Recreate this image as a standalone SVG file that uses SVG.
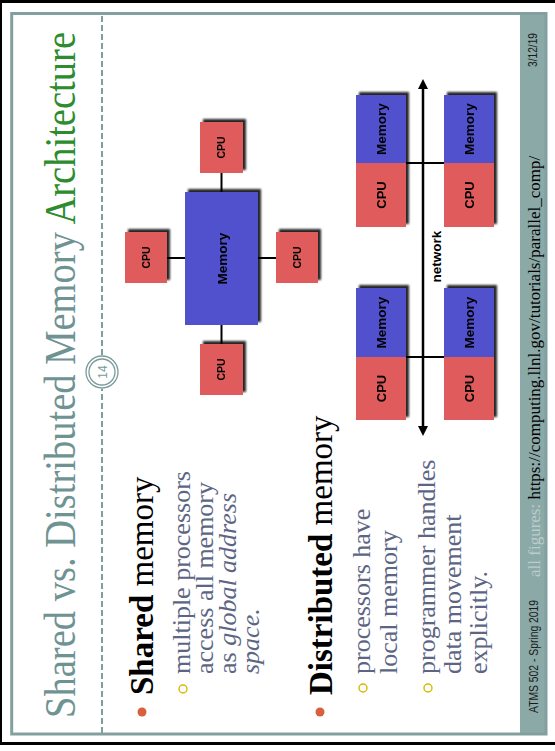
<svg xmlns="http://www.w3.org/2000/svg" width="555" height="751" viewBox="0 0 555 751">
<style>
.frame{fill:none;stroke:#83a0a0;stroke-width:3}
.bar{fill:#8ba9a7}
.dash{stroke:#7f9f9f;stroke-width:2;stroke-dasharray:6 3;fill:none}
.title{font-family:"Liberation Serif",serif;font-size:44px;fill:#6f9393}
.h{font-family:"Liberation Serif",serif;font-size:33px;fill:#000}
.sub{font-family:"Liberation Serif",serif;font-size:26px;fill:#5c6684}
.dot{fill:#d9603f}
.ring{fill:none;stroke:#d8b800;stroke-width:1.4}
.cpu{fill:#e05b5b}
.mem{fill:#5151cd}
.lbl{font-family:"Liberation Sans",Arial,sans-serif;font-weight:bold;fill:#000;text-anchor:middle}
.wire{stroke:#000;stroke-width:2;fill:none}
.foot{font-family:"Liberation Sans",Arial,sans-serif;font-size:12px;fill:#1a1a1a}
.url{font-family:"Liberation Serif",serif;font-size:17px}
</style>
<defs>
<filter id="sh" x="-20%" y="-20%" width="140%" height="140%">
<feDropShadow dx="3" dy="3" stdDeviation="1.2" flood-color="#000" flood-opacity="0.85"/>
</filter>
<marker id="ah" viewBox="0 0 10 10" refX="3" refY="5" markerUnits="userSpaceOnUse" markerWidth="11" markerHeight="10" orient="auto-start-reverse">
<path d="M0,0 L10,5 L0,10 z" fill="#000"/>
</marker>
</defs>
<g id="border" fill="#000">
<rect x="0" y="0" width="555" height="3"/>
<rect x="0" y="0" width="2" height="745"/>
<rect x="0" y="742" width="555" height="3"/>
</g>
<g id="slide" transform="translate(0,751) rotate(-90)">
<rect class="bar" x="16" y="520" width="723" height="27"/>
<rect class="frame" x="17" y="11.7" width="720.5" height="534.3"/>
<g id="separator">
<line class="dash" x1="18" y1="102" x2="362" y2="102"/>
<line class="dash" x1="396" y1="102" x2="736" y2="102"/>
<circle cx="379" cy="102" r="16" fill="#fff" stroke="#7a9a9a" stroke-width="1.3"/>
<circle cx="379" cy="102" r="13" fill="none" stroke="#7a9a9a" stroke-width="1.3"/>
<text x="379" y="106.5" text-anchor="middle" font-family="Liberation Sans,Arial,sans-serif" font-size="12" fill="#7a9a9a">14</text>
</g>
<text id="title" class="title" x="33" y="75" textLength="686" lengthAdjust="spacingAndGlyphs">Shared vs. Distributed Memory <tspan fill="#2d8c2d">Architecture</tspan></text>
<g id="shared-text">
<circle class="dot" cx="39" cy="142" r="4.5"/>
<text class="h" x="56" y="153"><tspan font-weight="bold">Shared</tspan> memory</text>
<circle class="ring" cx="62" cy="183" r="4"/>
<text class="sub" x="77" y="190">multiple processors</text>
<text class="sub" x="77" y="213">access all memory</text>
<text class="sub" x="77" y="236">as <tspan font-style="italic">global address</tspan></text>
<text class="sub" x="77" y="259" font-style="italic">space.</text>
</g>
<g id="distributed-text">
<circle class="dot" cx="39" cy="320" r="4.5"/>
<text class="h" x="56" y="332"><tspan font-weight="bold">Distributed</tspan> memory</text>
<circle class="ring" cx="63" cy="363" r="4"/>
<text class="sub" x="77" y="370">processors have</text>
<text class="sub" x="77" y="397">local memory</text>
<circle class="ring" cx="63" cy="428" r="4"/>
<text class="sub" x="77" y="435">programmer handles</text>
<text class="sub" x="77" y="461">data movement</text>
<text class="sub" x="77" y="487">explicitly.</text>
</g>
<g id="shared-connectors">
<line class="wire" x1="493" y1="167" x2="493" y2="185"/>
<line class="wire" x1="493" y1="258" x2="493" y2="276"/>
<line class="wire" x1="407" y1="221.5" x2="426" y2="221.5"/>
<line class="wire" x1="559" y1="221.5" x2="578" y2="221.5"/>
</g>
<g id="shared-memory" filter="url(#sh)">
<rect class="mem" x="426" y="185" width="133" height="73"/>
<text class="lbl" x="492.5" y="226.5" font-size="13.5">Memory</text>
</g>
<g id="cpu-a" filter="url(#sh)">
<rect class="cpu" x="468" y="125" width="51" height="42"/>
<text class="lbl" x="493.5" y="149.7" font-size="10.5">CPU</text>
</g>
<g id="cpu-b" filter="url(#sh)">
<rect class="cpu" x="468" y="276" width="51" height="42"/>
<text class="lbl" x="493.5" y="300.7" font-size="10.5">CPU</text>
</g>
<g id="cpu-c" filter="url(#sh)">
<rect class="cpu" x="356" y="200" width="51" height="43"/>
<text class="lbl" x="381.5" y="225.2" font-size="10.5">CPU</text>
</g>
<g id="cpu-d" filter="url(#sh)">
<rect class="cpu" x="578" y="200" width="51" height="43"/>
<text class="lbl" x="603.5" y="225.2" font-size="10.5">CPU</text>
</g>
<g id="dist-connectors">
<line class="wire" x1="394" y1="406" x2="394" y2="444"/>
<line class="wire" x1="588" y1="406" x2="588" y2="444"/>
<line x1="322" y1="423" x2="665" y2="423" stroke="#000" stroke-width="2.5" marker-start="url(#ah)" marker-end="url(#ah)"/>
<text class="lbl" x="494.5" y="441" font-size="13.5">network</text>
</g>
<g id="node-1" filter="url(#sh)">
<rect class="cpu" x="331" y="356" width="63" height="50"/>
<rect class="mem" x="394" y="356" width="69" height="50"/>
<text class="lbl" x="362.5" y="385.5" font-size="13">CPU</text>
<text class="lbl" x="428.5" y="385.7" font-size="13.5">Memory</text>
</g>
<g id="node-2" filter="url(#sh)">
<rect class="cpu" x="331" y="444" width="63" height="50"/>
<rect class="mem" x="394" y="444" width="69" height="50"/>
<text class="lbl" x="362.5" y="473.5" font-size="13">CPU</text>
<text class="lbl" x="428.5" y="473.7" font-size="13.5">Memory</text>
</g>
<g id="node-3" filter="url(#sh)">
<rect class="cpu" x="524" y="356" width="64" height="50"/>
<rect class="mem" x="588" y="356" width="68" height="50"/>
<text class="lbl" x="556" y="385.5" font-size="13">CPU</text>
<text class="lbl" x="622" y="385.7" font-size="13.5">Memory</text>
</g>
<g id="node-4" filter="url(#sh)">
<rect class="cpu" x="524" y="444" width="64" height="50"/>
<rect class="mem" x="588" y="444" width="68" height="50"/>
<text class="lbl" x="556" y="473.5" font-size="13">CPU</text>
<text class="lbl" x="622" y="473.7" font-size="13.5">Memory</text>
</g>
<g id="footer">
<text class="foot" x="38" y="538" textLength="113" lengthAdjust="spacingAndGlyphs">ATMS 502 - Spring 2019</text>
<text class="url" x="174" y="540" fill="#bccccc">all figures: <tspan fill="#000">https://computing.llnl.gov/tutorials/parallel_comp/</tspan></text>
<text class="foot" x="684" y="537" textLength="34" lengthAdjust="spacingAndGlyphs">3/12/19</text>
</g>
</g>
</svg>
